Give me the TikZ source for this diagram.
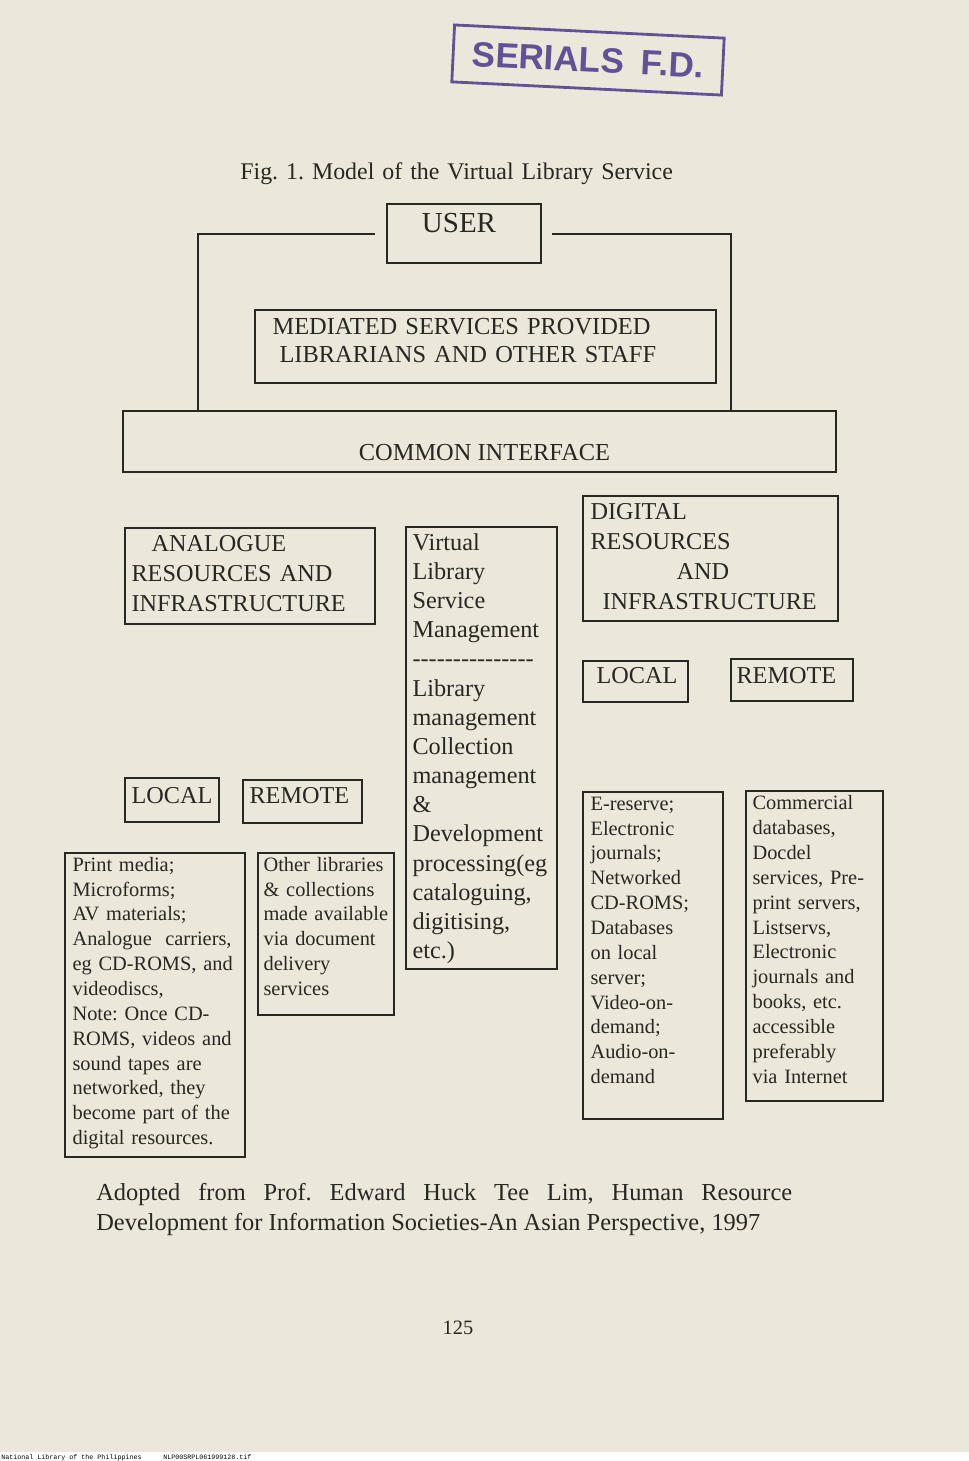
\documentclass[tikz,border=0pt]{standalone}
\usepackage{fontspec}
\setmainfont{Liberation Serif}
\newfontfamily\stampfont{Liberation Sans}
\newfontfamily\plainserif{Liberation Serif}
\newfontfamily\scanfont{Liberation Mono}
\usepackage{tikz}
\usetikzlibrary{positioning,fit,calc}
\frenchspacing
\definecolor{paper}{RGB}{235,231,219}
\definecolor{ink}{RGB}{42,38,34}
\definecolor{stampink}{RGB}{100,80,148}
\newcommand{\FontSmall}{\fontsize{11.6}{14.15}\selectfont}
\newcommand{\FontBig}{\fontsize{13.8}{17.2}\selectfont}
\newcommand{\FontVls}{\fontsize{13.8}{16.6}\selectfont}
\newcommand{\FontText}{\fontsize{13.9}{16.1}\selectfont}
\newcommand{\FontCaption}{\fontsize{13.6}{16}\selectfont}
\newcommand{\FontUser}{\fontsize{16.5}{19}\selectfont}
\tikzset{
  box/.style={draw=ink, line width=0.9pt, inner sep=0pt},
  frame/.style={draw=ink, line width=1pt},
  txt/.style={anchor=base west, align=left, inner sep=0pt, text=ink, text width=10cm},
  ctxt/.style={anchor=base, inner sep=0pt, text=ink},
}

\begin{document}
\begin{tikzpicture}[x=0.02cm, y=-0.02cm]
  % page
  \fill[paper] (0,0) rectangle (969,1452);
  \fill[white] (0,1452) rectangle (969,1461);
  \useasboundingbox (0,0) rectangle (969,1461);

  % stamp
  \node[draw=stampink, line width=1.6pt, rotate=-2.8, minimum width=5.4cm, minimum height=1.14cm,
        text=stampink, font=\stampfont\bfseries\fontsize{20}{22}\selectfont] (stamp) at (588,60)
        {SERIALS\hspace{0.34cm}F.D.};

  \node[txt, font=\FontCaption] (caption) at (240,179) {Fig. 1. Model of the Virtual Library Service};

  % user, mediated services, common interface
  \node[box, fit={(387,204)(541,263)}] (user) {};
  \node[ctxt, font=\FontUser] (usertxt) at ([shift={(-5,29)}]user.north) {USER};
  \node[box, fit={(255,310)(716,383)}] (mediated) {};
  \node[txt, font=\FontText] (mediatedtxt) at ([shift={(18,25)}]mediated.north west)
    {MEDIATED SERVICES PROVIDED\\\hspace*{0.14cm}LIBRARIANS AND OTHER STAFF};
  \node[box, fit={(123,411)(836,472)}] (common) {};
  \node[ctxt, font=\FontText] (commontxt) at ([shift={(5,50)}]common.north) {COMMON INTERFACE};

  \coordinate (lpost) at (198,234);
  \coordinate (lgap) at (375,234);
  \coordinate (rgap) at (552,234);
  \coordinate (rpost) at (731,234);
  \draw[frame] (lgap) -- (lpost) -- (lpost |- common.north);
  \draw[frame] (rgap) -- (rpost) -- (rpost |- common.north);

  % analogue side
  \node[box, fit={(125,528)(375,624)}] (analogue) {};
  \node[txt, font=\FontBig] (analoguetxt) at ([shift={(7,24)}]analogue.north west)
    {\hspace*{0.4cm}ANALOGUE\\RESOURCES AND\\INFRASTRUCTURE};
  \node[box, fit={(125,778)(219,822)}] (alocal) {};
  \node[txt, font=\FontBig] (alocaltxt) at ([shift={(7,26)}]alocal.north west) {LOCAL};
  \node[box, fit={(243,780)(362,823)}] (aremote) {};
  \node[txt, font=\FontBig] (aremotetxt) at ([shift={(7,24)}]aremote.north west) {REMOTE};
  \node[box, fit={(65,853)(245,1157)}] (print) {};
  \node[txt, font=\FontSmall] (printtxt) at ([shift={(8,19)}]print.north west)
    {Print media;\\Microforms;\\AV materials;\\Analogue\ \ carriers,\\eg CD-ROMS, and\\videodiscs,\\Note: Once CD-\\ROMS, videos and\\sound tapes are\\networked, they\\become part of the\\digital resources.};
  \node[box, fit={(258,853)(394,1015)}] (otherlib) {};
  \node[txt, font=\FontSmall] (otherlibtxt) at ([shift={(6,19)}]otherlib.north west)
    {Other libraries\\\& collections\\made available\\via document\\delivery\\services};

  % virtual library service management
  \node[box, fit={(406,527)(557,969)}] (vls) {};
  \node[txt, font=\FontVls] (vlstxt) at ([shift={(7,24)}]vls.north west)
    {Virtual\\Library\\Service\\Management\\{\plainserif ---------------}\\Library\\management\\Collection\\management\\\&\\Development\\processing(eg\\cataloguing,\\digitising,\\etc.)};

  % digital side
  \node[box, fit={(583,496)(838,621)}] (digital) {};
  \node[txt, font=\FontBig] (digitaltxt) at ([shift={(8,24)}]digital.north west)
    {DIGITAL\\RESOURCES\\\hspace*{1.72cm}AND\\\hspace*{0.24cm}INFRASTRUCTURE};
  \node[box, fit={(583,661)(688,702)}] (dlocal) {};
  \node[txt, font=\FontBig] (dlocaltxt) at ([shift={(14,23)}]dlocal.north west) {LOCAL};
  \node[box, fit={(731,659)(853,701)}] (dremote) {};
  \node[txt, font=\FontBig] (dremotetxt) at ([shift={(6,25)}]dremote.north west) {REMOTE};
  \node[box, fit={(583,792)(723,1119)}] (ereserve) {};
  \node[txt, font=\FontSmall] (ereservetxt) at ([shift={(8,19)}]ereserve.north west)
    {E-reserve;\\Electronic\\journals;\\Networked\\CD-ROMS;\\Databases\\on local\\server;\\Video-on-\\demand;\\Audio-on-\\demand};
  \node[box, fit={(746,791)(883,1101)}] (commercial) {};
  \node[txt, font=\FontSmall] (commercialtxt) at ([shift={(7,19.5)}]commercial.north west)
    {Commercial\\databases,\\Docdel\\services, Pre-\\print servers,\\Listservs,\\Electronic\\journals and\\books, etc.\\accessible\\preferably\\via Internet};

  % source and page
  \node[anchor=base west, inner sep=0pt, text=ink, font=\FontText] (cite1) at (96,1200)
    {\makebox[13.92cm][s]{Adopted from Prof. Edward Huck Tee Lim, Human Resource}};
  \node[anchor=base west, inner sep=0pt, text=ink, font=\FontText] (cite2) at (96,1230)
    {Development for Information Societies-An Asian Perspective, 1997};
  \node[ctxt, font=\FontSmall] (pagenum) at (458,1334) {125};

  % scan footer
  \node[anchor=base west, inner sep=0pt, font=\scanfont\fontsize{3.8}{4}\selectfont] (footlib) at (1,1459)
    {National Library of the Philippines};
  \node[anchor=base west, inner sep=0pt, font=\scanfont\fontsize{3.8}{4}\selectfont] (footfile) at (163,1459)
    {NLP00SRPL061999128.tif};
\end{tikzpicture}
\end{document}
